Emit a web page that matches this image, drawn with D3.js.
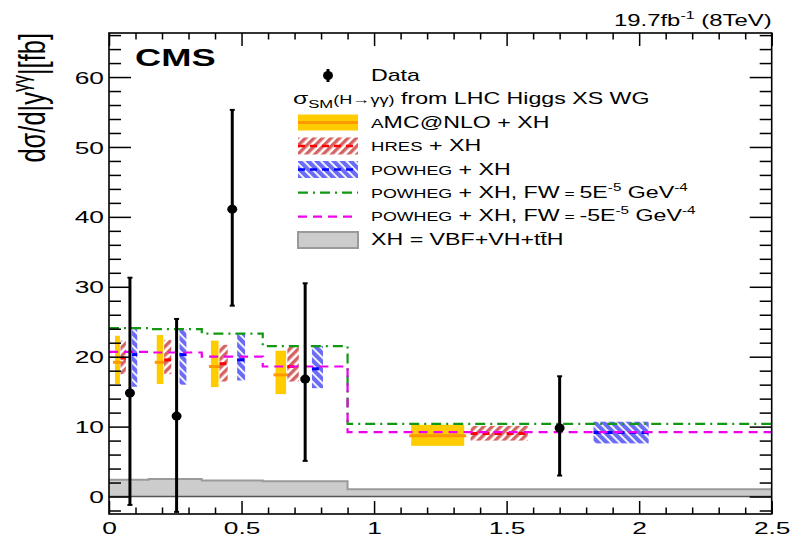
<!DOCTYPE html>
<html><head><meta charset="utf-8">
<script src="https://cdn.jsdelivr.net/npm/d3@7"></script>
<style>
body{margin:0;background:#fff}
svg{display:block}
text{font-family:"Liberation Sans",Arial,Helvetica,sans-serif;fill:#000}
</style>
</head><body>
<svg id="c" width="792" height="538"></svg>
<script>
// ---------------- data ----------------
const binEdges = [0, 0.15, 0.35, 0.58, 0.9, 2.5];
const dataX = [0.079, 0.255, 0.465, 0.74, 1.7];
const dataY = [14.8, 11.5, 41.1, 16.8, 9.8];
const dataHi = [31.3, 25.4, 55.3, 30.5, 17.2];
const dataLo = [-1.2, -2.2, 27.3, 5.1, 3.0];

const amcCentral = [19.2, 19.2, 18.6, 17.4, 8.7];
const amcLow = [16.1, 16.1, 15.65, 14.65, 7.25];
const amcHigh = [23.0, 23.1, 22.3, 20.85, 10.26];

const hresCentral = [19.8, 19.55, 19.0, 18.6, 9.0];
const hresLow = [17.5, 17.5, 16.45, 16.45, 8.0];
const hresHigh = [22.3, 22.4, 21.7, 21.45, 10.1];

const powhegCentral = [20.3, 20.3, 19.55, 18.27, 9.15];
const powhegLow = [15.7, 16.0, 16.6, 15.5, 7.6];
const powhegHigh = [23.95, 23.9, 23.3, 21.55, 10.7];

const fwPlus = [24.1, 23.95, 23.3, 21.5, 10.4];
const fwMinus = [20.7, 20.6, 20.0, 18.6, 9.2];
const xhOnly = [2.4, 2.5, 2.3, 2.2, 1.05];

const yTickValues = [0, 10, 20, 30, 40, 50, 60];
const yTickLabels = ["0", "10", "20", "30", "40", "50", "60"];
const xTickValues = [0, 0.5, 1, 1.5, 2, 2.5];
const xTickLabels = ["0", "0.5", "1", "1.5", "2", "2.5"];

// ---------------- layout ----------------
const SX = 1.45;          // horizontal text stretch of the original
const svg = d3.select('#c');
const x = d3.scaleLinear().domain([0, 2.5]).range([109, 771.7]);
const y = d3.scaleLinear().domain([-2.5, 66.3]).range([514, 33]);
const FONT = '"Liberation Sans",Arial,Helvetica,sans-serif';

const defs = svg.append('defs');
function hatch(id, color, angle, sw, gap) {
  const p = defs.append('pattern').attr('id', id).attr('patternUnits', 'userSpaceOnUse')
    .attr('width', gap).attr('height', gap).attr('patternTransform', `rotate(${angle})`);
  p.append('rect').attr('x', 0).attr('y', 0).attr('width', sw).attr('height', gap).attr('fill', color);
}
hatch('hRed', '#d46464', 45, 3.4, 6);
hatch('hBlue', '#6a6cf6', -45, 4.2, 6);

// rich stretched text
function stext(x0, y0, parts, opt = {}) {
  const g = svg.append('g').attr('transform', `translate(${x0},${y0}) scale(${opt.sx || SX},1)` + (opt.rotate ? ` rotate(${opt.rotate})` : ''));
  const t = g.append('text').attr('text-anchor', opt.anchor || 'start')
    .attr('font-weight', opt.bold ? 'bold' : 'normal').style('font-family', FONT);
  let cur = 0;
  parts.forEach(p => {
    const dy = p.dy || 0;
    t.append('tspan').attr('font-size', p.s).attr('dy', dy - cur).text(p.t);
    cur = dy;
  });
  return g;
}

// ---------------- XH gray band ----------------
const stepPts = vals => vals.map((v, i) => ({ e: binEdges[i], v })).concat([{ e: binEdges[binEdges.length - 1], v: vals[vals.length - 1] }]);
svg.append('path').datum(stepPts(xhOnly))
  .attr('d', d3.area().x(d => x(d.e)).y0(y(0)).y1(d => y(d.v)).curve(d3.curveStepAfter))
  .attr('fill', '#cccccc');
svg.append('path').datum(stepPts(xhOnly))
  .attr('d', d3.line().x(d => x(d.e)).y(d => y(d.v)).curve(d3.curveStepAfter))
  .attr('fill', 'none').attr('stroke', '#9a9a9a').attr('stroke-width', 2);
svg.append('line').attr('x1', x(0)).attr('x2', x(2.5)).attr('y1', y(0)).attr('y2', y(0))
  .attr('stroke', '#555').attr('stroke-width', 1.5);

// ---------------- theory bands ----------------
const models = [
  { lo: amcLow, hi: amcHigh, c: amcCentral, f: [0.15, 0.275], fill: '#ffcc00', line: '#ff9900', dash: null, ext: 2 },
  { lo: hresLow, hi: hresHigh, c: hresCentral, f: [0.29, 0.425], fill: 'url(#hRed)', line: '#ff0000', dash: '7,5', ext: 0 },
  { lo: powhegLow, hi: powhegHigh, c: powhegCentral, f: [0.58, 0.71], fill: 'url(#hBlue)', line: '#0000ff', dash: '7,5', ext: 0 }
];
models.forEach(m => {
  const g = svg.append('g');
  const rows = m.c.map((c, i) => {
    const e0 = binEdges[i], e1 = binEdges[i + 1];
    return { x0: x(e0 + m.f[0] * (e1 - e0)), x1: x(e0 + m.f[1] * (e1 - e0)), lo: m.lo[i], hi: m.hi[i], c };
  });
  g.selectAll('rect').data(rows).join('rect')
    .attr('x', d => d.x0).attr('width', d => d.x1 - d.x0)
    .attr('y', d => y(d.hi)).attr('height', d => y(d.lo) - y(d.hi))
    .attr('fill', m.fill);
  g.selectAll('line').data(rows).join('line')
    .attr('x1', d => d.x0 - m.ext).attr('x2', d => d.x1 + m.ext)
    .attr('y1', d => y(d.c)).attr('y2', d => y(d.c))
    .attr('stroke', m.line).attr('stroke-width', 3)
    .attr('stroke-dasharray', m.dash);
});

// ---------------- step lines ----------------
const stepLine = d3.line().x(d => x(d.e)).y(d => y(d.v)).curve(d3.curveStepAfter);
svg.append('path').datum(stepPts(fwPlus)).attr('d', stepLine)
  .attr('fill', 'none').attr('stroke', '#119911').attr('stroke-width', 2.2).attr('stroke-dasharray', '10,5,2,5');
svg.append('path').datum(stepPts(fwMinus)).attr('d', stepLine)
  .attr('fill', 'none').attr('stroke', '#ee00ee').attr('stroke-width', 2.2).attr('stroke-dasharray', '9,6');

// ---------------- data ----------------
const pts = dataX.map((v, i) => ({ x: v, y: dataY[i], hi: dataHi[i], lo: dataLo[i] }));
const dg = svg.append('g');
dg.selectAll('line.err').data(pts).join('line').attr('class', 'err')
  .attr('x1', d => x(d.x)).attr('x2', d => x(d.x)).attr('y1', d => y(d.hi)).attr('y2', d => y(d.lo))
  .attr('stroke', '#000').attr('stroke-width', 3);
['hi', 'lo'].forEach(k => {
  dg.selectAll('line.cap' + k).data(pts).join('line').attr('class', 'cap' + k)
    .attr('x1', d => x(d.x) - 2.5).attr('x2', d => x(d.x) + 2.5).attr('y1', d => y(d[k])).attr('y2', d => y(d[k]))
    .attr('stroke', '#000').attr('stroke-width', 2);
});
dg.selectAll('ellipse').data(pts).join('ellipse')
  .attr('cx', d => x(d.x)).attr('cy', d => y(d.y)).attr('rx', 5).attr('ry', 4.5).attr('fill', '#000');

// ---------------- axes ----------------
const yMinor = d3.range(-2, 67, 2).filter(v => v % 10 !== 0);
const xMinor = d3.range(0, 26, 1).filter(v => v % 5 !== 0).map(v => v / 10);
function styleAxis(g) {
  g.select('.domain').remove();
  g.selectAll('line').attr('stroke', '#000').attr('stroke-width', 1.5);
}
// left
const axL = svg.append('g').attr('transform', `translate(${x(0)},0)`)
  .call(d3.axisLeft(y).tickValues(yTickValues).tickSizeInner(-22).tickSizeOuter(0).tickPadding(6)
    .tickFormat((d, i) => yTickLabels[i]));
styleAxis(axL);
axL.selectAll('text').attr('x', -5 / 1.55).attr('dy', '0.36em').attr('transform', `scale(1.55,1)`)
  .attr('font-size', 17).style('font-family', FONT).attr('fill', '#000');
styleAxis(svg.append('g').attr('transform', `translate(${x(0)},0)`)
  .call(d3.axisLeft(y).tickValues(yMinor).tickSizeInner(-12).tickSizeOuter(0).tickFormat('')));
// right
styleAxis(svg.append('g').attr('transform', `translate(${x(2.5)},0)`)
  .call(d3.axisRight(y).tickValues(yTickValues).tickSizeInner(-22).tickSizeOuter(0).tickFormat('')));
styleAxis(svg.append('g').attr('transform', `translate(${x(2.5)},0)`)
  .call(d3.axisRight(y).tickValues(yMinor).tickSizeInner(-12).tickSizeOuter(0).tickFormat('')));
// bottom
const axB = svg.append('g').attr('transform', `translate(0,${y(-2.5)})`)
  .call(d3.axisBottom(x).tickValues(xTickValues).tickSizeInner(-13).tickSizeOuter(0).tickPadding(0)
    .tickFormat((d, i) => xTickLabels[i]));
styleAxis(axB);
axB.selectAll('text').attr('y', 20).attr('dy', null).attr('transform', `scale(1.55,1)`)
  .attr('font-size', 17).style('font-family', FONT).attr('fill', '#000');
styleAxis(svg.append('g').attr('transform', `translate(0,${y(-2.5)})`)
  .call(d3.axisBottom(x).tickValues(xMinor).tickSizeInner(-6.5).tickSizeOuter(0).tickFormat('')));
// top
styleAxis(svg.append('g').attr('transform', `translate(0,${y(66.3)})`)
  .call(d3.axisTop(x).tickValues(xTickValues).tickSizeInner(-13).tickSizeOuter(0).tickFormat('')));
styleAxis(svg.append('g').attr('transform', `translate(0,${y(66.3)})`)
  .call(d3.axisTop(x).tickValues(xMinor).tickSizeInner(-6.5).tickSizeOuter(0).tickFormat('')));
// frame
svg.append('rect').attr('x', x(0)).attr('y', y(66.3)).attr('width', x(2.5) - x(0)).attr('height', y(-2.5) - y(66.3))
  .attr('fill', 'none').attr('stroke', '#000').attr('stroke-width', 1.6);

// ---------------- titles ----------------
stext(x(0) + 26, 65.7, [{ t: 'CMS', s: 24.5 }], { bold: true, sx: 1.48 });
stext(x(2.5), 25.7, [{ t: '19.7fb', s: 16.5 }, { t: '-1', s: 11, dy: -7 }, { t: ' (8TeV)', s: 16.5 }], { anchor: 'end' });
stext(45, y(66.3), [{ t: 'd\u03c3/d|y', s: 25.5 }, { t: '\u03b3\u03b3', s: 17, dy: -11 }, { t: '|[fb]', s: 25.5 }], { anchor: 'end', rotate: -90 });

// ---------------- legend ----------------
const lx0 = 298, lx1 = 358, tx = 371;
// Data
svg.append('line').attr('x1', 328).attr('x2', 328).attr('y1', 69).attr('y2', 82).attr('stroke', '#000').attr('stroke-width', 3);
svg.append('ellipse').attr('cx', 328).attr('cy', 75.5).attr('rx', 5).attr('ry', 4.5).attr('fill', '#000');
stext(tx, 80.5, [{ t: 'Data', s: 16 }]);
stext(293, 104, [{ t: '\u03c3', s: 17 }, { t: 'SM', s: 11.5, dy: 4 }, { t: '(H\u2192\u03b3\u03b3)', s: 12.5, dy: 0 }, { t: ' from LHC Higgs XS WG', s: 16 }]);
// aMC
svg.append('rect').attr('x', lx0).attr('y', 114.5).attr('width', lx1 - lx0).attr('height', 16).attr('fill', '#ffcc00');
svg.append('line').attr('x1', lx0).attr('x2', lx1).attr('y1', 122.5).attr('y2', 122.5).attr('stroke', '#ff9900').attr('stroke-width', 3);
stext(tx, 127.5, [{ t: 'A', s: 13 }, { t: 'MC@NLO + XH', s: 16 }]);
// HRES
svg.append('rect').attr('x', lx0).attr('y', 137.5).attr('width', lx1 - lx0).attr('height', 17).attr('fill', 'url(#hRed)');
svg.append('line').attr('x1', lx0).attr('x2', lx1).attr('y1', 146).attr('y2', 146).attr('stroke', '#ff0000').attr('stroke-width', 2.5).attr('stroke-dasharray', '7,5');
stext(tx, 151, [{ t: 'HRES', s: 12.8 }, { t: ' + XH', s: 16 }]);
// POWHEG
svg.append('rect').attr('x', lx0).attr('y', 161).attr('width', lx1 - lx0).attr('height', 17).attr('fill', 'url(#hBlue)');
svg.append('line').attr('x1', lx0).attr('x2', lx1).attr('y1', 169.5).attr('y2', 169.5).attr('stroke', '#0000ff').attr('stroke-width', 2.5).attr('stroke-dasharray', '7,5');
stext(tx, 175, [{ t: 'POWHEG', s: 12.3 }, { t: ' + XH', s: 16 }]);
// FW +
svg.append('line').attr('x1', lx0).attr('x2', lx1).attr('y1', 192.7).attr('y2', 192.7).attr('stroke', '#119911').attr('stroke-width', 2.2).attr('stroke-dasharray', '10,5,2,5');
stext(tx, 197.5, [{ t: 'POWHEG', s: 12.3 }, { t: ' + XH, FW', s: 16 }, { t: ' = ', s: 12 }, { t: '5E', s: 16 }, { t: '-5', s: 10.5, dy: -7 }, { t: ' GeV', s: 16, dy: 0 }, { t: '-4', s: 10.5, dy: -7 }]);
// FW -
svg.append('line').attr('x1', lx0).attr('x2', lx1).attr('y1', 216.7).attr('y2', 216.7).attr('stroke', '#ee00ee').attr('stroke-width', 2.2).attr('stroke-dasharray', '9,6');
stext(tx, 221, [{ t: 'POWHEG', s: 12.3 }, { t: ' + XH, FW', s: 16 }, { t: ' = ', s: 12 }, { t: '-5E', s: 16 }, { t: '-5', s: 10.5, dy: -7 }, { t: ' GeV', s: 16, dy: 0 }, { t: '-4', s: 10.5, dy: -7 }]);
// XH
svg.append('rect').attr('x', lx0).attr('y', 232).attr('width', lx1 - lx0).attr('height', 16).attr('fill', '#cccccc').attr('stroke', '#9a9a9a').attr('stroke-width', 2);
stext(tx, 244.5, [{ t: 'XH = VBF+VH+tt\u0304H', s: 16 }]);
</script>
</body></html>
